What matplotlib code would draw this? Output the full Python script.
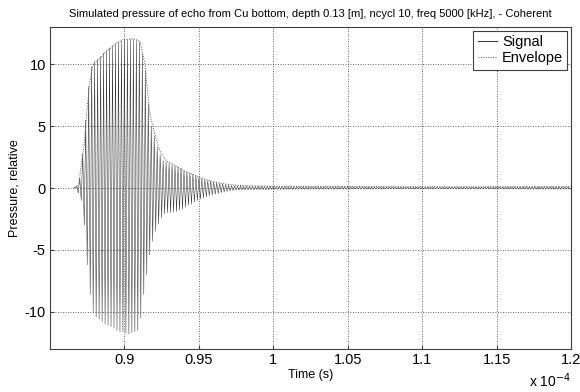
import numpy as np
import matplotlib
matplotlib.use("Agg")
import matplotlib.pyplot as plt
from matplotlib.ticker import FuncFormatter

plt.rcParams['font.family'] = ['Liberation Sans', 'DejaVu Sans']
plt.rcParams['axes.unicode_minus'] = False

# carrier 5000 kHz -> one cycle every 0.2 us; signal starts just before 0.87e-4 s
t_start = 0.866e-4
t_first_peak = 0.868e-4
period = 0.2e-6
t_end = 1.2e-4

# height of each positive / negative peak, one value per cycle
pos_peaks = [
    0.15, 0.8, 2.8, 5.5, 8.2, 9.8, 10.2, 10.4, 10.6, 10.9,
    11.1, 11.3, 11.5, 11.6, 11.8, 11.9, 12.0, 12.0, 12.0, 12.0,
    11.9, 11.8, 10.8, 9.5, 6.8, 5.0, 4.2, 3.3, 2.7, 2.2,
    2.1, 2.0, 1.9, 1.8, 1.7, 1.6, 1.4, 1.3, 1.2, 1.1,
    1.0, 0.85, 0.75, 0.68, 0.6, 0.55, 0.48, 0.42, 0.37, 0.32,
    0.28, 0.24, 0.2, 0.18, 0.16, 0.15, 0.15, 0.14, 0.14, 0.14,
    0.13, 0.13, 0.13, 0.13, 0.13, 0.13, 0.12, 0.12, 0.12, 0.12,
    0.12, 0.12, 0.12, 0.11, 0.11, 0.11, 0.11, 0.11, 0.11, 0.11,
    0.1, 0.1, 0.1, 0.1, 0.1, 0.1, 0.1, 0.1, 0.1, 0.1,
    0.1, 0.09, 0.09, 0.09, 0.09, 0.09, 0.09, 0.09, 0.09, 0.09,
    0.08, 0.08, 0.08, 0.08, 0.08, 0.08, 0.08, 0.08, 0.08, 0.08,
    0.08, 0.08, 0.08, 0.08, 0.08, 0.08, 0.07, 0.07, 0.07, 0.07,
    0.07, 0.07, 0.07, 0.07, 0.07, 0.07, 0.07, 0.07, 0.07, 0.07,
    0.07, 0.08, 0.08, 0.08, 0.08, 0.08, 0.08, 0.08, 0.08, 0.08,
    0.08, 0.09, 0.09, 0.09, 0.09, 0.09, 0.09, 0.09, 0.09, 0.09,
    0.09, 0.1, 0.1, 0.1, 0.1, 0.1, 0.1, 0.1, 0.1, 0.1,
    0.1, 0.1, 0.1, 0.1, 0.1, 0.1,
]
neg_peaks = [
    0.4, 1.0, 3.0, 6.2, 8.6, 10.0, 10.4, 10.6, 10.8, 11.0,
    11.1, 11.2, 11.3, 11.5, 11.6, 11.6, 11.7, 11.8, 11.7, 11.6,
    11.5, 10.5, 8.6, 7.0, 5.4, 4.3, 3.5, 2.9, 2.4, 2.1,
    2.0, 2.0, 1.95, 1.9, 1.8, 1.7, 1.55, 1.4, 1.3, 1.15,
    1.0, 0.9, 0.8, 0.72, 0.62, 0.56, 0.5, 0.45, 0.38, 0.33,
    0.28, 0.24, 0.21, 0.18, 0.16, 0.15, 0.15, 0.14, 0.14, 0.14,
    0.13, 0.13, 0.13, 0.13, 0.13, 0.13, 0.12, 0.12, 0.12, 0.12,
    0.12, 0.12, 0.12, 0.11, 0.11, 0.11, 0.11, 0.11, 0.11, 0.11,
    0.1, 0.1, 0.1, 0.1, 0.1, 0.1, 0.1, 0.1, 0.1, 0.1,
    0.1, 0.09, 0.09, 0.09, 0.09, 0.09, 0.09, 0.09, 0.09, 0.09,
    0.08, 0.08, 0.08, 0.08, 0.08, 0.08, 0.08, 0.08, 0.08, 0.08,
    0.08, 0.08, 0.08, 0.08, 0.08, 0.08, 0.07, 0.07, 0.07, 0.07,
    0.07, 0.07, 0.07, 0.07, 0.07, 0.07, 0.07, 0.07, 0.07, 0.07,
    0.07, 0.08, 0.08, 0.08, 0.08, 0.08, 0.08, 0.08, 0.08, 0.08,
    0.08, 0.09, 0.09, 0.09, 0.09, 0.09, 0.09, 0.09, 0.09, 0.09,
    0.09, 0.1, 0.1, 0.1, 0.1, 0.1, 0.1, 0.1, 0.1, 0.1,
    0.1, 0.1, 0.1, 0.1, 0.1, 0.1,
]

# envelope (time in units of 1e-4 s)
env_time = [0.866, 0.868, 0.8695, 0.8713, 0.873, 0.8746, 0.8768, 0.879, 0.8836, 0.888,
            0.8936, 0.899, 0.906, 0.9104, 0.9138, 0.917, 0.9205, 0.9238, 0.928, 0.933,
            0.9395, 0.946, 0.951, 0.957, 0.964, 0.969, 0.976, 0.984, 1.0, 1.05,
            1.1, 1.15, 1.2]
env_value = [0.0, 0.05, 0.4, 2.2, 3.5, 6.0, 8.6, 10.0, 10.5, 11.05,
             11.6, 12.0, 12.05, 11.85, 10.0, 6.0, 4.3, 3.0, 2.2, 1.9,
             1.4, 1.1, 0.8, 0.6, 0.4, 0.3, 0.22, 0.17, 0.14, 0.12,
             0.1, 0.1, 0.1]

x_ticks = [0.9, 0.95, 1.0, 1.05, 1.1, 1.15, 1.2]
y_ticks = [-10, -5, 0, 5, 10]


def build_signal():
    """Zig-zag through the peaks, one up and one down per carrier cycle."""
    n = len(pos_peaks)
    tk = t_first_peak + period * np.arange(n)
    t = np.empty(2 * n + 2)
    p = np.empty(2 * n + 2)
    t[0], p[0] = t_start, 0.0
    t[1:-1:2] = tk
    p[1:-1:2] = pos_peaks
    t[2:-1:2] = tk + period / 2
    p[2:-1:2] = -np.array(neg_peaks)
    t[-1], p[-1] = t_end, 0.0
    return t, p


t_sig, p_sig = build_signal()

fig = plt.figure(figsize=(5.8, 3.92), dpi=100)
ax = fig.add_axes([50 / 580, 1 - 349 / 392, 521 / 580, 322 / 392])

ax.plot(t_sig, p_sig, color='#2a2a2a', lw=0.35, label='Signal')
ax.plot(np.array(env_time) * 1e-4, env_value, color='#505050', lw=0.7,
        ls=(0, (1, 1.5)), label='Envelope')

ax.set_xlim(0.85e-4, 1.2e-4)
ax.set_ylim(-13, 13)
ax.set_xticks(np.array(x_ticks) * 1e-4)
ax.xaxis.set_major_formatter(FuncFormatter(lambda v, pos: '%g' % round(v * 1e4, 4)))
ax.set_yticks(y_ticks)

ax.grid(True, ls=(0, (1, 2)), color='#303030', lw=0.6)
for s in ax.spines.values():
    s.set_color('#404040')
    s.set_linewidth(0.8)
ax.tick_params(direction='in', length=3, labelsize=10.5, pad=3, color='#404040')

ax.set_title('Simulated pressure of echo from Cu bottom, depth 0.13 [m], ncycl 10, '
             'freq 5000 [kHz], - Coherent', fontsize=8, pad=7)
ax.set_xlabel('Time (s)', fontsize=9, labelpad=1)
ax.set_ylabel('Pressure, relative', fontsize=9, labelpad=3)
ax.text(1.0, -0.07, r'x 10$^{-4}$', transform=ax.transAxes, ha='right', va='top',
        fontsize=10)

leg = ax.legend(loc='upper right', fontsize=10.5, borderaxespad=0.25, fancybox=False,
                handlelength=1.35, handletextpad=0.3, labelspacing=0.15,
                borderpad=0.3, framealpha=1)
leg.get_frame().set_edgecolor('#404040')
leg.get_frame().set_linewidth(0.8)
leg.legend_handles[0].set_linewidth(0.7)
leg.legend_handles[0].set_color('#303030')

fig.savefig('out.png', dpi=100)
